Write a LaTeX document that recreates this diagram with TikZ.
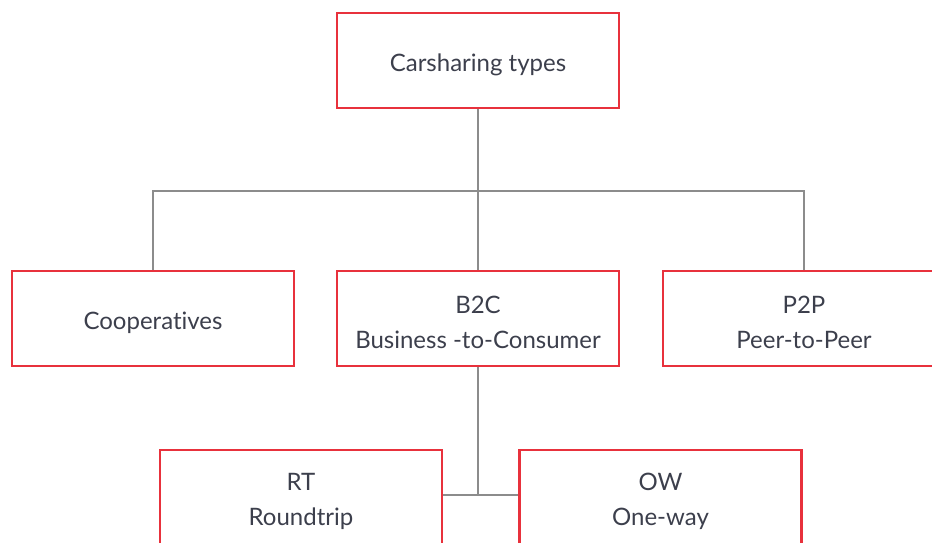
\documentclass[tikz,border=0pt]{standalone}
\usepackage{fontspec}
\setmainfont[Ligatures=NoCommon]{Lato}
\definecolor{boxred}{HTML}{E8313C}
\definecolor{linegray}{HTML}{8C8C8C}
\definecolor{txt}{HTML}{3C3F4C}
\begin{document}
\begin{tikzpicture}[x=1pt,y=-1pt,
  box/.style={draw=boxred,line width=2.4pt,minimum width=282pt,minimum height=95pt,inner sep=0pt,
    label={[lbl]center:{#1}}},
  lbl/.style={align=center,text=txt,font=\fontsize{24}{35}\selectfont,yshift=-4pt,inner sep=0pt},
  conn/.style={draw=linegray,line width=2.6pt}]
\useasboundingbox (0,0) rectangle (932,542);
\clip (0,0) rectangle (932,542);
\node[box={Carsharing types}] (top) at (478,60.5) {};
\node[box={Cooperatives}] (coop) at (153,318.5) {};
\node[box={B2C\\Business -to-Consumer}] (b2c) at (478,318.5) {};
\node[box={P2P\\Peer-to-Peer}] (p2p) at (804,318.5) {};
\node[box={RT\\Roundtrip}] (rt) at (301,497.5) {};
\node[box={OW\\One-way}] (ow) at (660.5,497.5) {};
\coordinate (hub) at (478,191);
\coordinate (hub2) at (478,495);
\draw[conn] (top.south) -- (b2c.north);
\draw[conn] (coop.north) |- (hub) -| (p2p.north);
\draw[conn] (b2c.south) -- (hub2);
\draw[conn] (rt.east |- hub2) -- (ow.west |- hub2);
\end{tikzpicture}
\end{document}
